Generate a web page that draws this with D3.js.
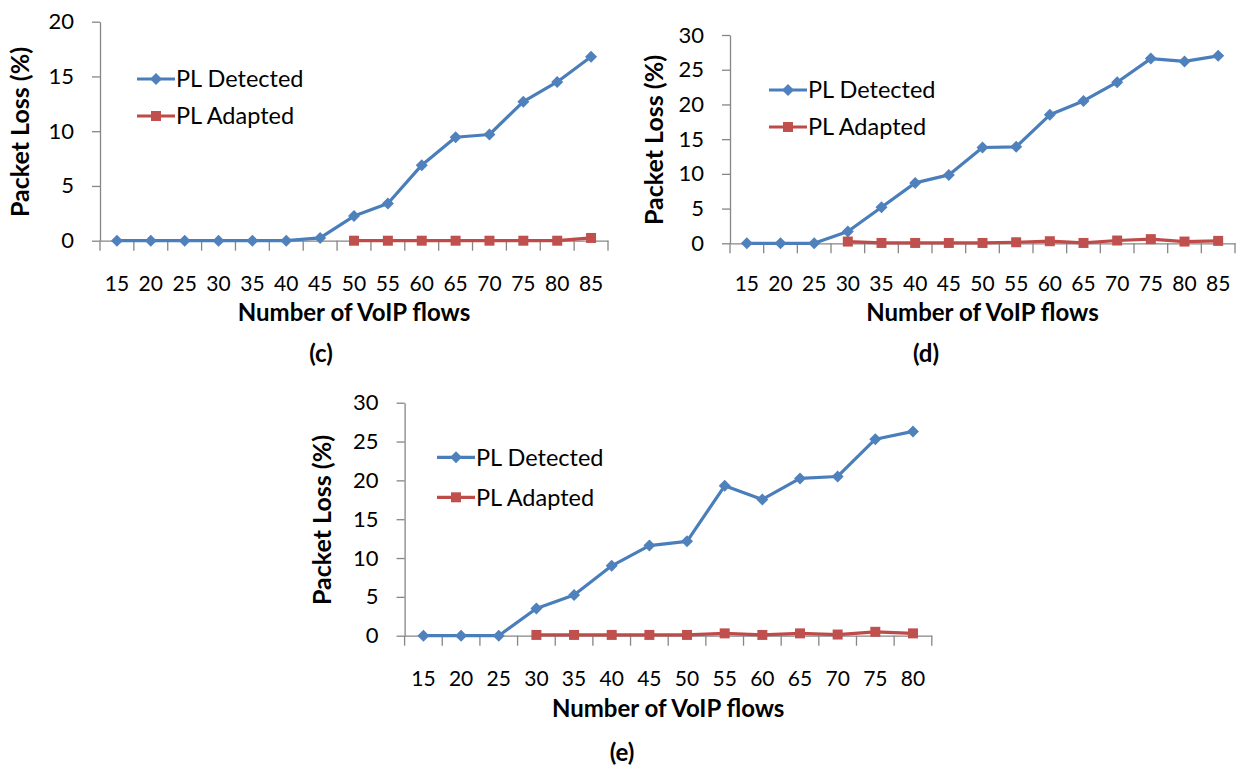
<!DOCTYPE html>
<html>
<head>
<meta charset="utf-8">
<script src="https://cdn.jsdelivr.net/npm/d3@7"></script>
<style>
  body { margin: 0; background: #fff; }
  svg { display: block; }
  text { font-family: Lato, "Open Sans", sans-serif; fill: #000; }
</style>
</head>
<body>
<svg id="fig" width="1237" height="769"></svg>
<script>
// Number of VoIP flows on the category axis
const flowsCD = [15, 20, 25, 30, 35, 40, 45, 50, 55, 60, 65, 70, 75, 80, 85];
const flowsE  = [15, 20, 25, 30, 35, 40, 45, 50, 55, 60, 65, 70, 75, 80];

// Packet loss (%) per scenario; null = no measurement
const detectedC = [0, 0, 0, 0, 0, 0, 0.25, 2.25, 3.4, 6.9, 9.45, 9.7, 12.7, 14.5, 16.8];
const adaptedC  = [null, null, null, null, null, null, null, 0, 0, 0, 0, 0, 0, 0, 0.25];

const detectedD = [0, 0, 0, 1.7, 5.2, 8.7, 9.85, 13.8, 13.9, 18.5, 20.5, 23.2, 26.6, 26.2, 27.0];
const adaptedD  = [null, null, null, 0.25, 0.05, 0.05, 0.05, 0.05, 0.15, 0.3, 0.05, 0.4, 0.6, 0.25, 0.35];

const detectedE = [0, 0, 0, 3.5, 5.25, 9.0, 11.6, 12.15, 19.3, 17.55, 20.25, 20.5, 25.3, 26.3];
const adaptedE  = [null, null, null, 0.1, 0.1, 0.1, 0.1, 0.1, 0.3, 0.1, 0.3, 0.15, 0.5, 0.3];

const yTicks20 = [0, 5, 10, 15, 20];
const yTicks30 = [0, 5, 10, 15, 20, 25, 30];

const seriesNames = ["PL Detected", "PL Adapted"];
const panelLabels = ["(c)", "(d)", "(e)"];
const xTitle = "Number of VoIP flows";
const yTitle = "Packet Loss (%)";

const BLUE_LINE = "#4a7ebb", BLUE_MARK = "#4f81bd";
const RED_LINE = "#be4b48",  RED_MARK = "#c0504d";
const AXIS = "#868686";

const panels = [
  { flows: flowsCD, det: detectedC, ada: adaptedC, ymax: 20, ticks: yTicks20, label: panelLabels[0],
    left: 100, right: 608, top: 21.7, bottom: 240.7, legGap: 37,
    legX: 137, legY: 79, titleX: 20, titleY: 132, labelX: 321, labelY: 353, xlabY: 284, xTitleY: 312 },
  { flows: flowsCD, det: detectedD, ada: adaptedD, ymax: 30, ticks: yTicks30, label: panelLabels[1],
    left: 730, right: 1235, top: 35, bottom: 243.3, legGap: 37,
    legX: 769, legY: 90, titleX: 654, titleY: 140, labelX: 926, labelY: 353, xlabY: 284, xTitleY: 312 },
  { flows: flowsE, det: detectedE, ada: adaptedE, ymax: 30, ticks: yTicks30, label: panelLabels[2],
    left: 404.6, right: 931.8, top: 402.7, bottom: 635.7, legGap: 40,
    legX: 437, legY: 457.3, titleX: 322, titleY: 520, labelX: 622, labelY: 752, xlabY: 679, xTitleY: 708 }
];

const svg = d3.select("#fig");
svg.append("rect").attr("width", 1237).attr("height", 769).attr("fill", "#fff");

const diamond = r => `M0,${-r}L${r},0L0,${r}L${-r},0Z`;
const square = s => `M${-s/2},${-s/2}h${s}v${s}h${-s}Z`;

function drawPanel(p) {
  const g = svg.append("g");
  const x = d3.scaleBand().domain(p.flows).range([p.left, p.right]).padding(0);
  const y = d3.scaleLinear().domain([0, p.ymax]).range([p.bottom, p.top]);
  const cx = d => x(d) + x.bandwidth() / 2;

  // value axis
  const ya = g.append("g").attr("transform", `translate(${p.left},0)`)
    .call(d3.axisLeft(y).tickValues(p.ticks).tickSize(8).tickSizeOuter(0).tickPadding(18));
  ya.selectAll("path, line").attr("stroke", AXIS).attr("stroke-width", 1.3);
  ya.selectAll("text").attr("font-size", 22).attr("font-family", "Lato").attr("fill", "#000");

  // category axis: labels from the band scale, tick marks on the category boundaries
  const xa = g.append("g").attr("transform", `translate(0,${p.bottom})`)
    .call(d3.axisBottom(x).tickSize(0).tickSizeOuter(0).tickPadding(p.xlabY - p.bottom - 7.5));
  xa.select(".domain").attr("stroke", AXIS).attr("stroke-width", 1.3);
  xa.selectAll("text").attr("font-size", 21).attr("font-family", "Lato").attr("fill", "#000");

  const bounds = p.flows.map(d => x(d)).concat([x(p.flows[p.flows.length - 1]) + x.bandwidth()]);
  g.append("g").selectAll("line").data(bounds).join("line")
    .attr("x1", d => d).attr("x2", d => d)
    .attr("y1", p.bottom).attr("y2", p.bottom + 10)
    .attr("stroke", AXIS).attr("stroke-width", 1.3);

  // series
  const series = [
    { vals: p.det, line: BLUE_LINE, mark: BLUE_MARK, shape: diamond(6) },
    { vals: p.ada, line: RED_LINE,  mark: RED_MARK,  shape: square(10) }
  ];
  series.forEach(s => {
    const pts = p.flows.map((f, i) => ({ f, v: s.vals[i] }));
    const defined = pts.filter(d => d.v !== null);
    const line = d3.line().defined(d => d.v !== null).x(d => cx(d.f)).y(d => y(d.v));
    g.append("path").datum(pts).attr("d", line)
      .attr("fill", "none").attr("stroke", s.line).attr("stroke-width", 3.2)
      .attr("stroke-linejoin", "round");
    g.append("g").selectAll("path").data(defined).join("path")
      .attr("d", s.shape)
      .attr("transform", d => `translate(${cx(d.f)},${y(d.v)})`)
      .attr("fill", s.mark);
  });

  // legend
  const leg = g.append("g");
  series.forEach((s, i) => {
    const ly = p.legY + i * p.legGap;
    leg.append("line").attr("x1", p.legX).attr("x2", p.legX + 38)
      .attr("y1", ly).attr("y2", ly).attr("stroke", s.line).attr("stroke-width", 3.2);
    leg.append("path").attr("d", s.shape)
      .attr("transform", `translate(${p.legX + 19},${ly})`).attr("fill", s.mark);
    leg.append("text").attr("x", p.legX + 39).attr("y", ly).attr("dy", "0.36em")
      .attr("font-size", 23.5).text(seriesNames[i]);
  });

  // axis titles
  g.append("text").attr("x", (p.left + p.right) / 2).attr("y", p.xTitleY).attr("dy", "0.36em")
    .attr("text-anchor", "middle").attr("font-size", 24).attr("font-weight", 700).text(xTitle);
  g.append("text").attr("transform", `translate(${p.titleX},${p.titleY}) rotate(-90)`)
    .attr("dy", "0.36em").attr("text-anchor", "middle")
    .attr("font-size", 25).attr("font-weight", 700).text(yTitle);

  // panel label
  g.append("text").attr("x", p.labelX).attr("y", p.labelY).attr("dy", "0.36em")
    .attr("text-anchor", "middle").attr("font-size", 24).attr("font-weight", 700).text(p.label);
}

panels.forEach(drawPanel);
</script>
</body>
</html>
